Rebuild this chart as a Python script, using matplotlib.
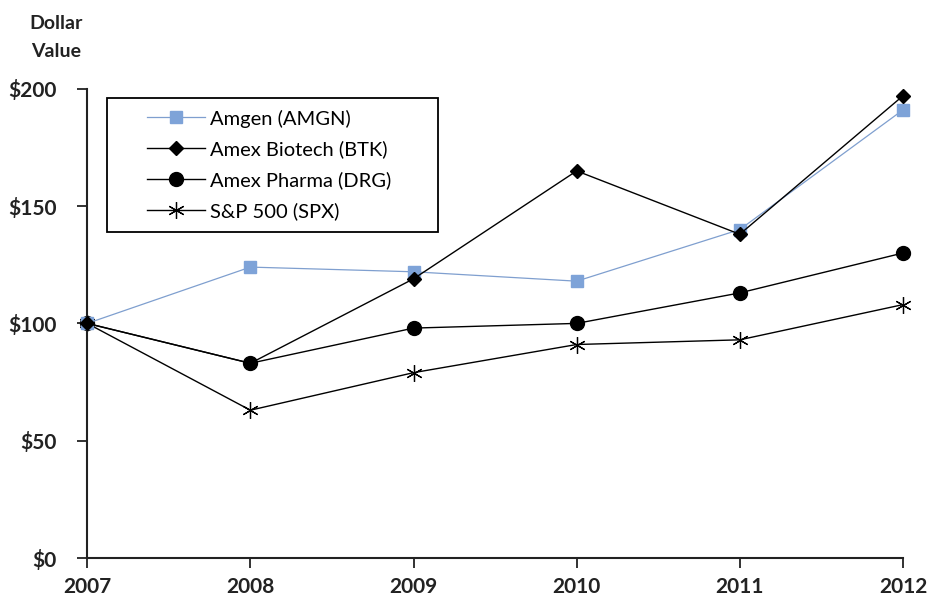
import matplotlib.pyplot as plt
from matplotlib.patches import Rectangle
from matplotlib.ticker import FuncFormatter

years = [2007, 2008, 2009, 2010, 2011, 2012]
amgn = [100, 124, 122, 118, 140, 191]
btk = [100, 83, 119, 165, 138, 197]
drg = [100, 83, 98, 100, 113, 130]
spx = [100, 63, 79, 91, 93, 108]

plt.rcParams['font.family'] = ['Lato', 'DejaVu Sans']

fig = plt.figure(figsize=(9.28, 6.0), dpi=100)
ax = fig.add_axes([0.094, 0.07, 0.879, 0.782])

ax.plot(years, amgn, color='#7f9fcf', lw=0.9, marker='s', ms=8,
        mfc='#7ea3d8', mec='#7ea3d8', label='Amgen (AMGN)', zorder=3)
ax.plot(years, btk, color='black', lw=1.0, marker='D', ms=7,
        label='Amex Biotech (BTK)', zorder=4)
ax.plot(years, drg, color='black', lw=1.0, marker='o', ms=10,
        label='Amex Pharma (DRG)', zorder=2)
ax.plot(years, spx, color='black', lw=1.0, marker=(6, 2, 0), ms=12,
        mew=0.9, label='S&P 500 (SPX)', zorder=2)

ax.set_xlim(2007, 2012)
ax.set_ylim(0, 200)
ax.set_xticks(years)
ax.set_yticks([0, 50, 100, 150, 200])
ax.yaxis.set_major_formatter(FuncFormatter(lambda v, p: f'${v:.0f}'))

for s in ['top', 'right']:
    ax.spines[s].set_visible(False)
for s in ['left', 'bottom']:
    ax.spines[s].set_linewidth(1.5)
    ax.spines[s].set_color('#222222')

ax.tick_params(axis='both', direction='out', length=7, width=1.3,
               labelsize=15, colors='#222222')
ax.tick_params(axis='y', pad=15)
ax.tick_params(axis='x', pad=7)
for lab in ax.get_xticklabels() + ax.get_yticklabels():
    lab.set_fontweight('bold')
for ln in ax.lines:
    ln.set_clip_on(False)

fig.text(0.06, 0.975, 'Dollar\nValue', ha='center', va='top',
         fontsize=14, fontweight='bold', linespacing=1.8, color='#222222')

# legend frame drawn separately (wide padding as in the original)
ax.add_patch(Rectangle((0.0245, 0.695), 0.4056, 0.286, transform=ax.transAxes,
                       fill=True, facecolor='white', edgecolor='black',
                       lw=1.3, zorder=5))
leg = ax.legend(loc='upper left', bbox_to_anchor=(0.073, 0.956),
                fontsize=14.5, frameon=False, borderpad=0, labelspacing=0.65,
                handlelength=2.9, handletextpad=0.25, borderaxespad=0)
leg.set_zorder(6)

fig.savefig('out.png', dpi=100)
